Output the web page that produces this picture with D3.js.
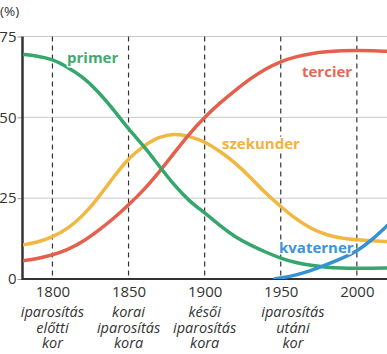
<!DOCTYPE html>
<html><head><meta charset="utf-8">
<script src="https://cdn.jsdelivr.net/npm/d3@7"></script>
<style>
html,body{margin:0;padding:0;background:#fff;}
svg{display:block;}
</style></head>
<body>
<svg id="c" width="387" height="354"></svg>
<script>
// ---- data ----
const years = [1780,1790,1800,1810,1820,1830,1840,1850,1860,1870,1880,1890,1900,1910,1920,1930,1940,1950,1960,1970,1980,1990,2000,2010,2020];
const primer =    [69.5,69,68,65.5,62.5,58,52.5,46.3,41.2,35,29,24,20.5,16.5,13,10.5,8.3,6.4,5,4.2,3.6,3.4,3.3,3.3,3.4];
const szekunder = [10.5,11.3,13,15.5,19.5,25,31.5,37.4,41.2,44,45,44.2,42.5,39.5,36,31.5,26.5,22.4,18.5,15.5,13.6,12.6,12.1,11.8,11.6];
const tercier =   [5.6,6.3,7.4,9,11.5,14.9,18.6,22.9,27.5,33,39,45,50,54.5,58.3,62,65,67.3,68.8,69.7,70.3,70.6,70.7,70.6,70.4];
const kvaternerYears = [1946,1950,1960,1970,1980,1990,2000,2010,2020];
const kvaterner = [0,0.3,1.2,2.6,4.4,6.3,8.5,12.1,16.5];
const yTicks = [0,25,50,75];
const xTicks = [1800,1850,1900,1950,2000];
const eraLabels = [
  ["iparosítás","előtti","kor"],
  ["korai","iparosítás","kora"],
  ["késői","iparosítás","kora"],
  ["iparosítás","utáni","kor"]
];
const eraYears = [1800,1850,1900,1958];
const seriesNames = ["primer","szekunder","tercier","kvaterner"];
const unitLabel = "(%)";

// ---- layout ----
const svg = d3.select("#c");
const x = d3.scaleLinear().domain([1780,2020]).range([22,387.3]);
const y = d3.scaleLinear().domain([0,75]).range([279,36.5]);
const font = "'Open Sans', Lato, sans-serif";

svg.append("defs").append("clipPath").attr("id","clip")
  .append("rect").attr("x",23).attr("y",0).attr("width",370).attr("height",279);

// grid
svg.append("g").selectAll("line").data(yTicks.filter(d=>d>0)).join("line")
  .attr("x1",23).attr("x2",387).attr("y1",d=>y(d)).attr("y2",d=>y(d))
  .attr("stroke","#c9c9c9").attr("stroke-width",1);

// dashed verticals
svg.append("g").selectAll("line").data(xTicks).join("line")
  .attr("x1",d=>x(d)).attr("x2",d=>x(d)).attr("y1",y(75)).attr("y2",y(0))
  .attr("stroke","#333").attr("stroke-width",1.2).attr("stroke-dasharray","5,4");

// y axis
const yAxis = svg.append("g").attr("transform","translate(22.5,0)")
  .call(d3.axisLeft(y).tickValues(yTicks).tickSize(5).tickPadding(1));
yAxis.select(".domain").remove();
yAxis.selectAll(".tick line").attr("stroke","#999");
yAxis.selectAll(".tick text").attr("font-family",font).attr("font-size",15).attr("fill","#333");
svg.append("line").attr("x1",22.5).attr("x2",22.5).attr("y1",y(75)).attr("y2",y(0)+1)
  .attr("stroke","#333").attr("stroke-width",2.5);

// x axis
const xAxis = svg.append("g").attr("transform",`translate(0,${y(0)})`)
  .call(d3.axisBottom(x).tickValues(xTicks).tickFormat(d3.format("d")).tickSize(0).tickPadding(7));
xAxis.select(".domain").remove();
xAxis.selectAll(".tick text").attr("font-family",font).attr("font-size",15).attr("fill","#333");
svg.append("line").attr("x1",22).attr("x2",387).attr("y1",y(0)).attr("y2",y(0))
  .attr("stroke","#333").attr("stroke-width",2);

// era labels (one text element per label, lines as tspans)
const eg = svg.append("g");
eraLabels.forEach((lines,i)=>{
  const t = eg.append("text").attr("text-anchor","middle").attr("font-family",font)
    .attr("font-style","italic").attr("font-size",14.5).attr("fill","#333");
  lines.forEach((s,j)=>{
    t.append("tspan").attr("x",x(eraYears[i])).attr("y",317+j*15.5).text(s);
  });
});

// unit
svg.append("text").attr("x",0).attr("y",16).attr("font-family",font).attr("font-size",13.5)
  .attr("fill","#333").text(unitLabel);

// lines
const line = d3.line().curve(d3.curveBasis);
const colors = {primer:"#35a66c", szekunder:"#f2b740", tercier:"#e5604c", kvaterner:"#3592d2"};
const series = [
  {name:"szekunder", xs:years, vs:szekunder},
  {name:"tercier", xs:years, vs:tercier},
  {name:"primer", xs:years, vs:primer},
  {name:"kvaterner", xs:kvaternerYears, vs:kvaterner}
];
const lg = svg.append("g").attr("clip-path","url(#clip)");
series.forEach(s=>{
  lg.append("path")
    .attr("d", line(s.xs.map((yr,i)=>[x(yr), y(s.vs[i])])))
    .attr("fill","none").attr("stroke",colors[s.name]).attr("stroke-width",3.5)
    .attr("stroke-linecap","round");
});

// series labels
const labelPos = {primer:[67,62.5], tercier:[302,76.5], szekunder:[222,149], kvaterner:[279,253]};
const labelCol = {primer:"#45a96f", szekunder:"#f0b33c", tercier:"#e4685a", kvaterner:"#3c95d6"};
seriesNames.forEach(n=>{
  svg.append("text").attr("x",labelPos[n][0]).attr("y",labelPos[n][1])
    .attr("font-family",font).attr("font-weight","bold").attr("font-size",15)
    .attr("fill",labelCol[n]).attr("stroke","#fff").attr("stroke-width",3)
    .attr("paint-order","stroke").attr("stroke-linejoin","round").text(n);
});
</script>
</body></html>
